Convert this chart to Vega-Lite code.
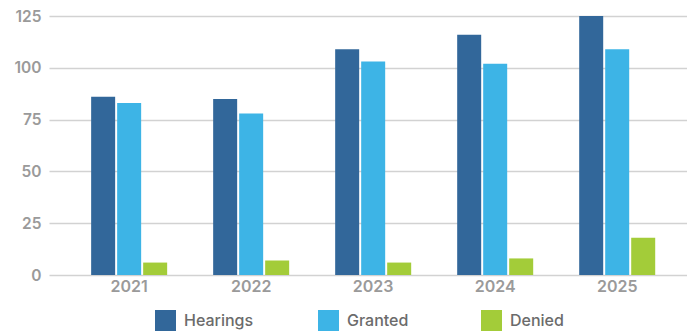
{
  "$schema": "https://vega.github.io/schema/vega-lite/v6.json",
  "width": 638,
  "height": 259,
  "autosize": {"type": "none"},
  "padding": {"left": 49, "top": 16, "right": 0, "bottom": 58},
  "config": {
    "font": "Inter",
    "view": {"stroke": null},
    "axis": {"domain": false, "ticks": false, "labelFont": "Inter", "labelFontWeight": 600}
  },
  "data": {
    "values": [
      {"year": "2021", "series": "Hearings", "value": 86},
      {"year": "2021", "series": "Granted", "value": 83},
      {"year": "2021", "series": "Denied", "value": 6},
      {"year": "2022", "series": "Hearings", "value": 85},
      {"year": "2022", "series": "Granted", "value": 78},
      {"year": "2022", "series": "Denied", "value": 7},
      {"year": "2023", "series": "Hearings", "value": 109},
      {"year": "2023", "series": "Granted", "value": 103},
      {"year": "2023", "series": "Denied", "value": 6},
      {"year": "2024", "series": "Hearings", "value": 116},
      {"year": "2024", "series": "Granted", "value": 102},
      {"year": "2024", "series": "Denied", "value": 8},
      {"year": "2025", "series": "Hearings", "value": 125},
      {"year": "2025", "series": "Granted", "value": 109},
      {"year": "2025", "series": "Denied", "value": 18}
    ]
  },
  "mark": {"type": "bar"},
  "encoding": {
    "x": {
      "field": "year",
      "type": "nominal",
      "scale": {"paddingInner": 0.377, "paddingOuter": 0.303, "align": 0.57},
      "axis": {
        "title": null,
        "labelAngle": 0,
        "labelFontSize": 16,
        "labelColor": "#9a9a9a",
        "labelPadding": 3,
        "grid": false
      }
    },
    "xOffset": {
      "field": "series",
      "type": "nominal",
      "sort": ["Hearings", "Granted", "Denied"],
      "scale": {"paddingInner": 0.077, "paddingOuter": 0}
    },
    "y": {
      "field": "value",
      "type": "quantitative",
      "scale": {"domain": [0, 125], "nice": false},
      "axis": {
        "title": null,
        "values": [0, 25, 50, 75, 100, 125],
        "labelFontSize": 15.5,
        "labelColor": "#9a9a9a",
        "labelPadding": 8,
        "gridColor": "#d2d2d2",
        "gridWidth": 1.5
      }
    },
    "color": {
      "field": "series",
      "type": "nominal",
      "scale": {
        "domain": ["Hearings", "Granted", "Denied"],
        "range": ["#32679a", "#3db4e6", "#a3cc39"]
      },
      "legend": {
        "title": null,
        "orient": "none",
        "direction": "horizontal",
        "legendX": 106,
        "legendY": 294,
        "columns": 3,
        "gridAlign": "all",
        "columnPadding": 64,
        "symbolType": "square",
        "symbolSize": 441,
        "symbolStrokeWidth": 0,
        "labelFont": "Inter",
        "labelFontSize": 16,
        "labelFontWeight": 500,
        "labelColor": "#6b6b6b",
        "labelOffset": 8
      }
    }
  }
}
